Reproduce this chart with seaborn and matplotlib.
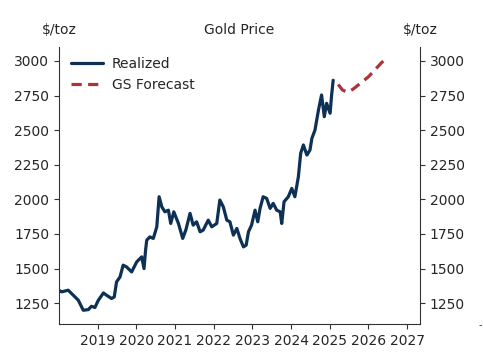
import numpy as np
import pandas as pd
import seaborn as sns
import matplotlib.pyplot as plt

# realized gold price, $/toz (decimal years)
realized_year = [2018.00, 2018.07, 2018.24, 2018.37, 2018.50, 2018.63, 2018.76, 2018.84,
                 2018.93, 2019.02, 2019.15, 2019.23, 2019.36, 2019.43, 2019.49, 2019.58,
                 2019.66, 2019.75, 2019.88, 2020.01, 2020.14, 2020.20, 2020.24, 2020.27,
                 2020.35, 2020.44, 2020.53, 2020.59, 2020.66, 2020.74, 2020.83, 2020.89,
                 2020.97, 2021.09, 2021.20, 2021.28, 2021.39, 2021.47, 2021.56, 2021.65,
                 2021.73, 2021.86, 2021.95, 2022.08, 2022.16, 2022.25, 2022.34, 2022.42,
                 2022.51, 2022.60, 2022.68, 2022.77, 2022.84, 2022.90, 2022.98, 2023.07,
                 2023.14, 2023.20, 2023.28, 2023.37, 2023.46, 2023.54, 2023.63, 2023.72,
                 2023.76, 2023.82, 2023.93, 2024.02, 2024.10, 2024.19, 2024.25, 2024.32,
                 2024.41, 2024.49, 2024.54, 2024.62, 2024.71, 2024.79, 2024.86, 2024.92,
                 2025.01, 2025.05, 2025.09]
realized_price = [1344, 1332, 1344, 1308, 1272, 1199, 1204, 1228,
                  1219, 1272, 1324, 1308, 1284, 1295, 1404, 1440,
                  1525, 1512, 1476, 1548, 1585, 1500, 1633, 1705,
                  1729, 1718, 1802, 2019, 1946, 1910, 1922, 1826,
                  1910, 1826, 1718, 1778, 1899, 1814, 1838, 1766,
                  1778, 1850, 1802, 1826, 1995, 1946, 1850, 1838,
                  1742, 1790, 1718, 1657, 1669, 1766, 1814, 1922,
                  1838, 1935, 2019, 2007, 1935, 1971, 1922, 1910,
                  1826, 1983, 2019, 2079, 2019, 2163, 2333, 2393,
                  2320, 2356, 2441, 2501, 2646, 2754, 2597, 2694,
                  2622, 2754, 2860]

# GS forecast path
forecast_year = [2025.22, 2025.33, 2025.45, 2025.60, 2025.80, 2026.00, 2026.20, 2026.35, 2026.50]
forecast_price = [2830, 2790, 2775, 2795, 2840, 2885, 2945, 2990, 3020]

year_ticks = [2019, 2020, 2021, 2022, 2023, 2024, 2025, 2026, 2027]
price_ticks = [1250, 1500, 1750, 2000, 2250, 2500, 2750, 3000]

df = pd.concat([
    pd.DataFrame({'year': realized_year, 'price': realized_price, 'series': 'Realized'}),
    pd.DataFrame({'year': forecast_year, 'price': forecast_price, 'series': 'GS Forecast'}),
])

sns.set_style('white')
plt.rcParams['font.family'] = ['DejaVu Sans']

fig = plt.figure(figsize=(4.83, 3.62), dpi=100)
ax = fig.add_axes([0.122, 0.105, 0.748, 0.765])

sns.lineplot(data=df, x='year', y='price', hue='series', style='series',
             palette={'Realized': '#0D3055', 'GS Forecast': '#A8353A'},
             dashes={'Realized': '', 'GS Forecast': (3.2, 2.0)},
             linewidth=2.3, ax=ax)

ax.set_xlim(2018.0, 2027.34)
ax.set_ylim(1100, 3100)
ax.set_xticks(year_ticks)
ax.set_xticklabels([str(y) for y in year_ticks], fontsize=10)
ax.set_yticks(price_ticks)
ax.set_yticklabels([str(p) for p in price_ticks], fontsize=10)
ax.set_xlabel('')
ax.set_ylabel('')
ax.tick_params(axis='both', length=3.5, width=0.8, color='#333333', left=True, bottom=True)

ax2 = ax.twinx()
ax2.set_ylim(ax.get_ylim())
ax2.set_yticks(price_ticks)
ax2.set_yticklabels([str(p) for p in price_ticks], fontsize=10)
ax2.tick_params(axis='y', length=3.5, width=0.8, color='#333333', right=True)

for a in (ax, ax2):
    a.spines['top'].set_visible(False)
    for s in a.spines.values():
        s.set_color('#333333')
        s.set_linewidth(0.8)
ax.spines['right'].set_visible(False)
ax2.spines['left'].set_visible(False)
ax2.spines['bottom'].set_visible(False)

ax.text(0.5, 1.062, 'Gold Price', transform=ax.transAxes, ha='center', va='center', fontsize=10)
ax.text(0.0, 1.062, '$/toz', transform=ax.transAxes, ha='center', va='center', fontsize=10)
ax.text(1.0, 1.062, '$/toz', transform=ax.transAxes, ha='center', va='center', fontsize=10)

ax.legend(loc='upper left', frameon=False, fontsize=10, handlelength=2.3,
          handletextpad=0.6, bbox_to_anchor=(0.0, 1.01))

fig.text(0.995, 1 - 325 / 362, '-', fontsize=7, ha='center', va='center', color='#333333')

plt.savefig('out.png', dpi=100)
